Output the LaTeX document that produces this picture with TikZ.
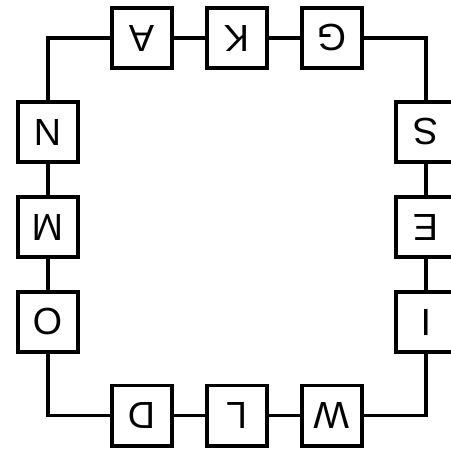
\documentclass[tikz,border=0pt]{standalone}
\usepackage{fontspec}
\setmainfont{Liberation Sans}
\usepackage{tikz}
\usetikzlibrary{positioning}
\tikzset{
  letterbox/.style={
    draw=black,
    shape=rectangle,
    line width=2pt,
    align=center,
    inner sep=0pt,
    minimum size=1.21cm,
    font=\fontsize{21.5}{25}\selectfont
  },
  wire/.style={
    draw=black,
    line width=2pt,
  },
}
\newcommand{\flipped}[1]{\rotatebox{180}{#1}}

\begin{document}
\begin{tikzpicture}[x=0.02cm,y=-0.02cm]
    \useasboundingbox (0,0) rectangle (450,452);

    \node[letterbox] (A) at (142,38) {\flipped{A}};
    \node[letterbox] (K) [right=0.62cm of A] {\flipped{K}};
    \node[letterbox] (G) [right=0.62cm of K] {\flipped{G}};

    \node[letterbox] (N) at (48,132) {\flipped{N}};
    \node[letterbox] (M) [below=0.62cm of N] {\flipped{M}};
    \node[letterbox] (O) [below=0.62cm of M] {\flipped{O}};

    \node[letterbox] (S) at (426,132) {\flipped{S}};
    \node[letterbox] (E) [below=0.62cm of S] {\flipped{E}};
    \node[letterbox] (I) [below=0.62cm of E] {\flipped{I}};

    \node[letterbox] (D) at (142,415.5) {\flipped{D}};
    \node[letterbox] (L) [right=0.62cm of D] {\flipped{L}};
    \node[letterbox] (W) [right=0.62cm of L] {\flipped{W}};

    \draw[wire] (A) -- (K);
    \draw[wire] (K) -- (G);
    \draw[wire] (G) -| (S);
    \draw[wire] (S) -- (E);
    \draw[wire] (E) -- (I);
    \draw[wire] (I) |- (W);
    \draw[wire] (W) -- (L);
    \draw[wire] (L) -- (D);
    \draw[wire] (D) -| (O);
    \draw[wire] (O) -- (M);
    \draw[wire] (M) -- (N);
    \draw[wire] (N) |- (A);
  \end{tikzpicture}
\end{document}
